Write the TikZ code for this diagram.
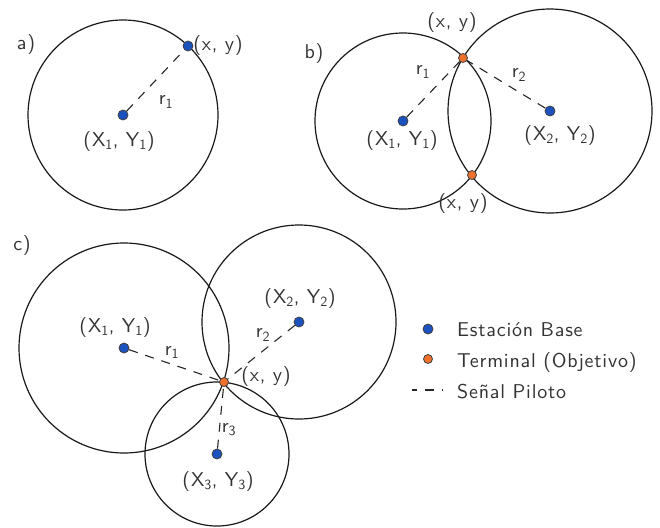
\documentclass[tikz,border=0pt]{standalone}
\usepackage{fontspec}
\newfontfamily\etiq{lmsans10-regular.otf}[LetterSpace=4]
\definecolor{azulEB}{RGB}{28,82,190}
\definecolor{naranjaT}{RGB}{238,112,45}
\newcommand{\XY}[1]{(X\textsubscript{#1}, Y\textsubscript{#1})}
\begin{document}
\begin{tikzpicture}[x=1pt, y=-1pt, font=\etiq\fontsize{20}{24}\selectfont,
  eb/.style={circle, draw=black!75, fill=azulEB, inner sep=0pt, minimum size=10pt, line width=0.8pt},
  term/.style={circle, draw=black!75, fill=naranjaT, inner sep=0pt, minimum size=9pt, line width=0.8pt},
  piloto/.style={dash pattern=on 9pt off 8pt, line width=1.1pt, black!85},
  zona/.style={line width=1.2pt, black!90},
  txt/.style={inner sep=0pt, text=black!80}]
\useasboundingbox (0,0) rectangle (660,527);
% Caso a)
\coordinate (ca1) at (123,115);
\draw[zona] (ca1) circle (95);
\node[eb] (a1) at (ca1) {};
\node[eb] (ta) at (188,46) {};
\draw[piloto] (a1) -- (ta);
\node[txt] (lblA) at (26,44) {a)};
\node[txt] (ra1) at (166,102) {r\textsubscript{1}};
\node[txt] (xya) at (218,46) {(x, y)};
\node[txt] (XYa1) at (119,141) {\XY{1}};
% Caso b)
\coordinate (cb1) at (403,121);
\coordinate (cb2) at (550,111);
\draw[zona] (cb1) circle (88);
\draw[zona] (cb2) circle (102);
\node[eb] (b1) at (cb1) {};
\node[eb] (b2) at (cb2) {};
\node[term] (tb1) at (463,58) {};
\node[term] (tb2) at (472,175) {};
\draw[piloto] (b1) -- (tb1);
\draw[piloto] (b2) -- (tb1);
\node[txt] (lblB) at (314,54) {b)};
\node[txt] (xyb1) at (452,23) {(x, y)};
\node[txt] (xyb2) at (463,203) {(x, y)};
\node[txt] (rb1) at (423,72) {r\textsubscript{1}};
\node[txt] (rb2) at (519,75) {r\textsubscript{2}};
\node[txt] (XYb1) at (402,140) {\XY{1}};
\node[txt] (XYb2) at (560,135) {\XY{2}};
% Caso c)
\coordinate (cc1) at (124,348);
\coordinate (cc2) at (299,322);
\coordinate (cc3) at (217,454);
\draw[zona] (cc1) circle (105);
\draw[zona] (cc2) circle (97);
\draw[zona] (cc3) circle (72);
\node[eb] (c1) at (cc1) {};
\node[eb] (c2) at (cc2) {};
\node[eb] (c3) at (cc3) {};
\node[term] (tc) at (224,382) {};
\foreach \i in {1,2,3} \draw[piloto] (c\i) -- (tc);
\node[txt] (lblC) at (22,245) {c)};
\node[txt] (XYc1) at (115,327) {\XY{1}};
\node[txt] (XYc2) at (300,298) {\XY{2}};
\node[txt] (XYc3) at (218,481) {\XY{3}};
\node[txt] (rc1) at (172,352) {r\textsubscript{1}};
\node[txt] (rc2) at (263,335) {r\textsubscript{2}};
\node[txt] (rc3) at (229,430) {r\textsubscript{3}};
\node[txt] (xyc) at (266,376) {(x, y)};
% Leyenda
\node[eb] (legEB) at (428,329) {};
\node[term] (legT) at (428,359) {};
\coordinate (legP1) at (412,390);
\coordinate (legP2) at (443,390);
\draw[piloto, dash phase=4pt] (legP1) -- (legP2);
\node[txt, anchor=base west] (txtEB) at (457,336) {Estación Base};
\node[txt, anchor=base west] (txtT) at (457,367) {Terminal (Objetivo)};
\node[txt, anchor=base west] (txtP) at (457,398) {Señal Piloto};
\end{tikzpicture}
\end{document}
